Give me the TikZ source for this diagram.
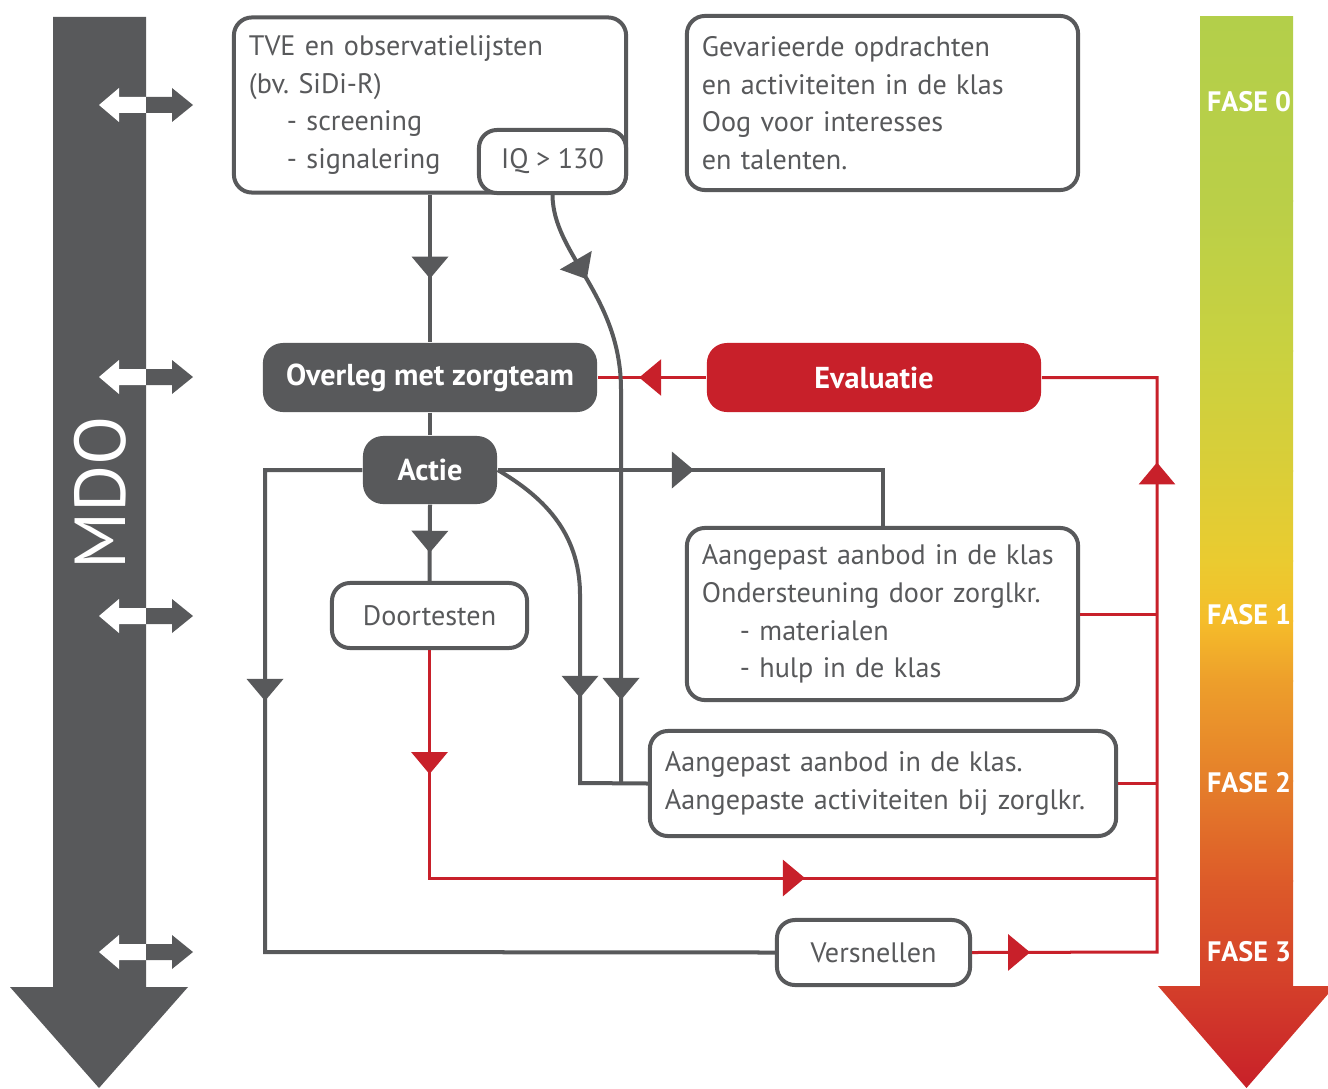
\documentclass[tikz,border=0pt]{standalone}
\usepackage{fontspec}
\setmainfont{PT Sans}
\usetikzlibrary{arrows.meta,decorations.markings}
\definecolor{dgrey}{HTML}{58595B}
\definecolor{dred}{HTML}{C8202A}
\definecolor{f0}{HTML}{B3CF4A}
\definecolor{f1}{HTML}{BACF48}
\definecolor{f2}{HTML}{C9D140}
\definecolor{f3}{HTML}{DACE38}
\definecolor{f4}{HTML}{EACB30}
\definecolor{f5}{HTML}{F5BD2A}
\definecolor{f6}{HTML}{ED9F2B}
\definecolor{f7}{HTML}{E57F2A}
\definecolor{f8}{HTML}{DD5B29}
\definecolor{f9}{HTML}{D43F2A}
\definecolor{f10}{HTML}{C82029}
\newcommand\bodytxt{\fontsize{8}{10.7}\selectfont}
\newcommand\boldtxt{\fontsize{8.6}{10}\selectfont\bfseries}
\tikzset{
  line/.style={dgrey, line width=0.04cm},
  redline/.style={dred, line width=0.03cm},
  box/.style={draw=dgrey, line width=0.04cm, rounded corners=0.18cm, fill=white, text=dgrey, font=\bodytxt, inner sep=0.15cm},
  textbox/.style={box, align=left, text width=#1},
  darkbox/.style={fill=dgrey, rounded corners=0.2cm, text=white, font=\boldtxt},
  redbox/.style={fill=dred, rounded corners=0.2cm, text=white, font=\boldtxt},
  fase/.style={text=white, font=\fontsize{8}{8}\selectfont\bfseries},
  midtip/.style={postaction={decorate, decoration={markings, mark=at position #1 with {\arrow{Triangle[width=0.36cm, length=0.22cm]}}}}},
}
\begin{document}
\begin{tikzpicture}[x=0.01cm, y=-0.01cm]
  \useasboundingbox (0,0) rectangle (1328,1088);
  % MDO
  \fill[dgrey] (53,17) -- (146,17) -- (146,987) -- (188,987) -- (99,1088) -- (10,987) -- (53,987) -- cycle;
  \node[rotate=90, text=white, font=\fontsize{20.5}{20}\selectfont] (mdo) at (100,493) {MDO};
  \foreach \y in {105,377,616,952} {
    \fill[white] (146,\y-8) -- (119,\y-8) -- (119,\y-17) -- (99,\y) -- (119,\y+17) -- (119,\y+8) -- (146,\y+8) -- cycle;
    \fill[dgrey] (146,\y-8) -- (172,\y-8) -- (172,\y-17) -- (193,\y) -- (172,\y+17) -- (172,\y+8) -- (146,\y+8) -- cycle;
  }
  % fasen
  \foreach \ya/\ca/\yb/\cb in {17/f0/200/f1, 200/f1/350/f2, 350/f2/470/f3, 470/f3/560/f4, 560/f4/620/f5, 620/f5/680/f6, 680/f6/780/f7, 780/f7/880/f8, 880/f8/987/f9}
    \shade[top color=\ca, bottom color=\cb] (1200,\ya) rectangle (1293,\yb+1);
  \shade[top color=f9, bottom color=f10] (1158,986) -- (1335,986) -- (1246.5,1088) -- cycle;
  \node[fase] (f0) at (1249,102) {FASE 0};
  \node[fase] (f1) at (1249,615) {FASE 1};
  \node[fase] (f2) at (1249,783) {FASE 2};
  \node[fase] (f3) at (1249,952) {FASE 3};

  \node[textbox=3.62cm, minimum height=1.75cm] (tve) at (430,105) {TVE en observatielijsten\\(bv.\ SiDi-R)\\\hspace*{0.38cm}- screening\\\hspace*{0.38cm}- signalering};
  \node[box, minimum width=1.47cm, minimum height=0.63cm] (iq) at (552.5,161.5) {IQ > 130};
  \node[textbox=3.61cm, minimum height=1.74cm] (gev) at (882.5,103) {Gevarieerde opdrachten\\en activiteiten in de klas\\Oog voor interesses\\en talenten.};
  \node[darkbox, minimum width=3.34cm, minimum height=0.69cm] (overleg) at (430,377.5) {Overleg met zorgteam};
  \node[redbox, minimum width=3.34cm, minimum height=0.69cm] (eval) at (874,377.5) {Evaluatie};
  \node[darkbox, minimum width=1.34cm, minimum height=0.68cm] (actie) at (430,470) {Actie};
  \node[box, minimum width=1.95cm, minimum height=0.65cm] (doort) at (429.5,615.5) {Doortesten};
  \node[textbox=3.61cm, minimum height=1.72cm] (klas1) at (882.5,614) {Aangepast aanbod in de klas\\Ondersteuning door zorglkr.\\\hspace*{0.38cm}- materialen\\\hspace*{0.38cm}- hulp in de klas};
  \node[textbox=4.36cm, minimum height=1.05cm] (klas2) at (883,783.5) {Aangepast aanbod in de klas.\\Aangepaste activiteiten bij zorglkr.};
  \node[box, minimum width=1.93cm, minimum height=0.65cm] (vers) at (873.5,952.5) {Versnellen};

  \coordinate (rc) at (1157,952);
  \coordinate (rb) at (1157,878);
  \coordinate (lc) at (265,952);
  \coordinate (j1) at (580,783);
  \coordinate (j2) at (621,783);

  \draw[redline, midtip=0.67cm] (eval.west) -- (overleg.east);
  \draw[redline, midtip=0.58cm, midtip=-2.0cm] (vers.east) -- (rc) |- (eval.east);
  \draw[redline, midtip=1.24cm, midtip=6.03cm] (doort.south) |- (rb);
  \draw[redline] (klas1.east) -- (klas1.east -| rc);
  \draw[redline] (klas2.east) -- (klas2.east -| rc);

  \draw[line, midtip=0.84cm] (tve.south) -- (overleg.north);
  \draw[line, midtip=0.92cm, midtip=-0.83cm] (iq.south) .. controls (553,255) and (621,295) .. (621,390) -- (j2);
  \draw[line] (overleg.south) -- (actie.north);
  \draw[line, midtip=0.48cm] (actie.south) -- (doort.north);
  \draw[line, midtip=3.28cm] (actie.west) -| (lc) -- (vers.west);
  \draw[line, midtip=1.96cm] (actie.east) -| (klas1.north);
  \draw[line, midtip=-1.53cm] (actie.east) .. controls (540,495) and (580,530) .. (580,595) -- (j1) -- (klas2.west);
\end{tikzpicture}
\end{document}
